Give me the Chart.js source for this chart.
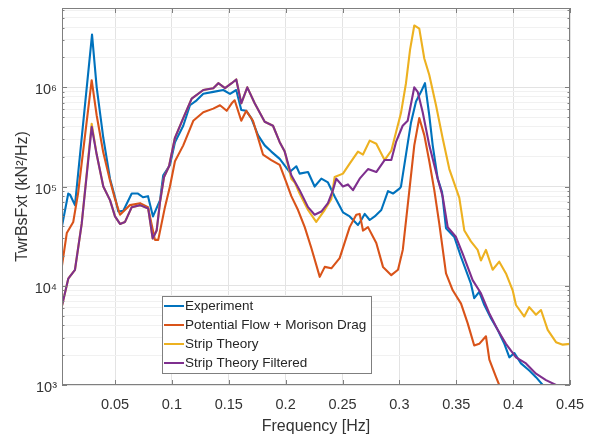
<!DOCTYPE html>
<html><head><meta charset="utf-8">
<script src="https://cdn.jsdelivr.net/npm/chart.js@4.4.1/dist/chart.umd.min.js"></script>
<style>html,body{margin:0;padding:0;background:#fff;}</style>
</head><body>
<canvas id="c" width="591" height="439"></canvas>
<script>
const seriesLabels = ['Experiment', 'Potential Flow + Morison Drag', 'Strip Theory', 'Strip Theory Filtered'];
const seriesColors = ['#0072BD', '#D95319', '#EDB120', '#7E2F8E'];

const expFreq = [0.0034,0.0089,0.0104,0.0148,0.0298,0.0339,0.0397,0.0456,0.0500,0.0529,0.0573,0.0647,0.0702,0.0746,0.0790,0.0834,0.0896,0.0924,0.0983,0.1027,0.1100,0.1159,0.1218,0.1276,0.1364,0.1452,0.1511,0.1566,0.1610,0.1654,0.1698,0.1757,0.1816,0.1874,0.1948,0.2036,0.2094,0.2123,0.2197,0.2255,0.2314,0.2372,0.2432,0.2504,0.2563,0.2636,0.2665,0.2695,0.2739,0.2783,0.2841,0.2900,0.2944,0.3003,0.3014,0.3058,0.3102,0.3146,0.3190,0.3225,0.3263,0.3293,0.3337,0.3375,0.3410,0.3483,0.3542,0.3629,0.3658,0.3702,0.3747,0.3805,0.3864,0.3923,0.3967,0.4011,0.4069,0.4142,0.4201,0.4274,0.4310];
const expPsd = [4.0e4,8.5e4,8.3e4,6.5e4,3.4e6,1.0e6,3.1e5,1.2e5,7.8e4,5.6e4,5.7e4,8.5e4,8.5e4,7.8e4,8.0e4,5.0e4,7.3e4,1.3e5,1.65e5,2.8e5,4.1e5,6.6e5,7.4e5,8.6e5,9.0e5,9.4e5,8.6e5,9.4e5,5.9e5,5.8e5,4.9e5,3.3e5,2.6e5,2.25e5,1.9e5,1.4e5,1.6e5,1.35e5,1.4e5,1.0e5,1.2e5,1.1e5,7.9e4,5.5e4,5.0e4,4.1e4,4.6e4,5.3e4,4.6e4,5.0e4,5.8e4,9.0e4,8.5e4,9.6e4,1.0e5,2.1e5,4.4e5,7.2e5,9.0e5,1.1e6,5.2e5,2.6e5,1.2e5,8.8e4,3.8e4,3.1e4,1.95e4,1.05e4,7.5e3,8.7e3,6.4e3,4.7e3,3.6e3,2.6e3,1.9e3,2.1e3,1.65e3,1.4e3,1.2e3,9.6e2,8.8e2];

const pfFreq = [0.0034,0.0076,0.0133,0.0175,0.0295,0.0339,0.0397,0.0456,0.0500,0.0544,0.0632,0.0720,0.0790,0.0851,0.0880,0.0939,0.0983,0.1027,0.1100,0.1188,0.1276,0.1364,0.1423,0.1482,0.1526,0.1552,0.1610,0.1654,0.1713,0.1801,0.1874,0.1948,0.2006,0.2050,0.2109,0.2168,0.2226,0.2300,0.2344,0.2402,0.2475,0.2563,0.2621,0.2651,0.2680,0.2724,0.2797,0.2856,0.2929,0.2988,0.3030,0.3088,0.3131,0.3175,0.3219,0.3263,0.3307,0.3351,0.3410,0.3469,0.3542,0.3600,0.3658,0.3702,0.3761,0.3791,0.3850,0.3894];
const pfPsd = [1.6e4,3.4e4,4.4e4,8.5e4,1.18e6,5.2e5,2.2e5,1.15e5,7.5e4,5.2e4,6.5e4,6.8e4,6.2e4,2.9e4,2.9e4,6.2e4,1.0e5,1.8e5,2.6e5,4.6e5,5.6e5,6.1e5,6.6e5,5.8e5,6.9e5,7.4e5,4.6e5,5.8e5,4.6e5,2.1e5,1.85e5,1.65e5,1.1e5,8.0e4,5.8e4,3.9e4,2.4e4,1.23e4,1.55e4,1.5e4,1.9e4,3.9e4,5.2e4,5.3e4,3.6e4,3.9e4,2.7e4,1.55e4,1.28e4,1.45e4,2.3e4,9.2e4,2.6e5,4.9e5,3.3e5,1.8e5,9.2e4,4.2e4,1.33e4,9.0e3,6.6e3,4.2e3,2.5e3,2.6e3,3.1e3,1.8e3,1.2e3,9.0e2];

const stFreq = [0.0034,0.0089,0.0148,0.0207,0.0295,0.0339,0.0397,0.0456,0.0500,0.0544,0.0588,0.0647,0.0720,0.0792,0.0831,0.0866,0.0896,0.0931,0.0975,0.1027,0.1100,0.1174,0.1276,0.1364,0.1408,0.1467,0.1526,0.1566,0.1610,0.1663,0.1728,0.1816,0.1889,0.1948,0.1992,0.2050,0.2080,0.2123,0.2197,0.2269,0.2343,0.2402,0.2431,0.2504,0.2563,0.2636,0.2680,0.2739,0.2797,0.2870,0.2929,0.2970,0.3014,0.3058,0.3094,0.3131,0.3175,0.3219,0.3263,0.3322,0.3381,0.3439,0.3498,0.3527,0.3571,0.3629,0.3688,0.3717,0.3761,0.3820,0.3878,0.3937,0.3996,0.4025,0.4098,0.4142,0.4201,0.4245,0.4304,0.4377,0.4436,0.4500];
const stPsd = [6.3e3,1.18e4,1.45e4,4.2e4,4.3e5,2.1e5,1.0e5,7.3e4,5.0e4,4.2e4,4.4e4,6.2e4,6.5e4,6.0e4,3.0e4,3.6e4,7.0e4,1.25e5,1.6e5,3.1e5,4.9e5,7.7e5,9.4e5,9.8e5,1.1e6,9.8e5,1.1e6,1.2e6,6.9e5,1.0e6,6.9e5,4.5e5,4.1e5,2.8e5,2.25e5,1.2e5,1.1e5,8.5e4,5.8e4,4.4e4,5.8e4,7.5e4,1.25e5,1.35e5,1.7e5,2.25e5,2.1e5,2.9e5,2.7e5,1.85e5,2.3e5,3.5e5,5.5e5,1.1e6,2.4e6,4.2e6,3.9e6,1.95e6,1.33e6,6.6e5,3.05e5,1.5e5,9.6e4,7.7e4,3.6e4,2.8e4,2.3e4,1.8e4,2.3e4,1.45e4,1.75e4,1.33e4,9.0e3,6.4e3,4.9e3,6.1e3,5.1e3,5.7e3,3.6e3,2.7e3,2.55e3,2.6e3];

const stfFreq = [0.0034,0.0089,0.0148,0.0207,0.0295,0.0339,0.0397,0.0456,0.0500,0.0544,0.0588,0.0647,0.0720,0.0792,0.0831,0.0866,0.0896,0.0931,0.0975,0.1027,0.1100,0.1174,0.1276,0.1364,0.1408,0.1467,0.1526,0.1566,0.1610,0.1663,0.1728,0.1816,0.1889,0.1948,0.1992,0.2050,0.2123,0.2197,0.2255,0.2314,0.2372,0.2416,0.2445,0.2504,0.2548,0.2592,0.2651,0.2724,0.2797,0.2870,0.2929,0.2970,0.3029,0.3073,0.3131,0.3161,0.3205,0.3263,0.3337,0.3381,0.3425,0.3498,0.3557,0.3644,0.3717,0.3790,0.3864,0.3937,0.4025,0.4113,0.4201,0.4289,0.4377,0.4438];
const stfPsd = [6.3e3,1.18e4,1.45e4,4.2e4,4.0e5,2.1e5,1.0e5,7.3e4,5.0e4,4.2e4,4.4e4,6.2e4,6.5e4,6.0e4,3.0e4,3.6e4,7.0e4,1.25e5,1.6e5,3.1e5,4.9e5,7.7e5,9.4e5,9.8e5,1.1e6,9.8e5,1.1e6,1.2e6,6.9e5,1.0e6,6.9e5,4.5e5,4.1e5,2.8e5,2.25e5,1.3e5,9.2e4,6.2e4,5.2e4,5.6e4,6.8e4,9.2e4,1.2e5,1.0e5,1.05e5,9.2e4,1.2e5,1.5e5,1.4e5,1.85e5,1.85e5,2.8e5,4.1e5,4.6e5,1.0e6,9.0e5,5.6e5,2.6e5,1.2e5,7.9e4,3.9e4,3.1e4,2.1e4,1.14e4,8.4e3,5.3e3,3.6e3,2.6e3,1.9e3,1.65e3,1.3e3,1.12e3,1.0e3,9.5e2];

const xTickValues = [0.05,0.1,0.15,0.2,0.25,0.3,0.35,0.4,0.45];
const xTickLabels = ['0.05','0.1','0.15','0.2','0.25','0.3','0.35','0.4','0.45'];
const yTickValues = [1e3,1e4,1e5,1e6];
const yTickLabels = ['10\u00B3','10\u2074','10\u2075','10\u2076'];
const xMin = 0.0034, xMax = 0.45, yMin = 1e3, yMax = 6.3e6;

const yGridValues = [];
for (let e = 3; e <= 6; e++) for (let m = 1; m <= 9; m++) { const v = m * Math.pow(10, e); if (v <= yMax) yGridValues.push(v); }

const FONT = "'Liberation Sans', Arial, Helvetica, sans-serif";
const TXT = '#333333';

function mk(i, fr, ps, order) {
  return { label: seriesLabels[i], data: fr.map((f, k) => ({ x: f, y: ps[k] })),
    borderColor: seriesColors[i], backgroundColor: seriesColors[i], borderWidth: 2.1,
    pointRadius: 0, tension: 0, fill: false, order: order, borderJoinStyle: 'round' };
}

const framePlugin = {
  id: 'frame',
  afterDatasetsDraw(chart) {
    const { ctx, chartArea: a, scales: { x, y } } = chart;
    ctx.save();
    ctx.strokeStyle = '#7f7f7f';
    ctx.lineWidth = 1;
    ctx.beginPath();
    xTickValues.forEach(v => {
      const p = Math.round(x.getPixelForValue(v)) + 0.5;
      ctx.moveTo(p, a.bottom); ctx.lineTo(p, a.bottom - 5);
      ctx.moveTo(p, a.top); ctx.lineTo(p, a.top + 5);
    });
    yGridValues.forEach(v => {
      const p = Math.round(y.getPixelForValue(v)) + 0.5;
      const len = yTickValues.includes(v) ? 5 : 2.5;
      ctx.moveTo(a.left, p); ctx.lineTo(a.left + len, p);
      ctx.moveTo(a.right, p); ctx.lineTo(a.right - len, p);
    });
    ctx.stroke();
    ctx.strokeRect(Math.round(a.left) + 0.5, Math.round(a.top) + 0.5, Math.round(a.right - a.left) - 1, Math.round(a.bottom - a.top) - 1);
    ctx.restore();
  }
};

const legendPlugin = {
  id: 'insetLegend',
  afterDraw(chart) {
    const { ctx } = chart;
    const bx = 162, by = 296, bw = 209, bh = 77;
    ctx.save();
    ctx.fillStyle = '#ffffff';
    ctx.fillRect(bx, by, bw, bh);
    ctx.strokeStyle = '#7f7f7f';
    ctx.lineWidth = 1;
    ctx.strokeRect(bx + 0.5, by + 0.5, bw, bh);
    ctx.font = '13.5px ' + FONT;
    ctx.textBaseline = 'middle';
    ctx.textAlign = 'left';
    chart.data.datasets.forEach((ds, i) => {
      const ry = by + 10 + i * 19;
      ctx.strokeStyle = ds.borderColor;
      ctx.lineWidth = 2;
      ctx.beginPath(); ctx.moveTo(bx + 2, ry); ctx.lineTo(bx + 22, ry); ctx.stroke();
      ctx.fillStyle = '#262626';
      ctx.fillText(ds.label, bx + 23, ry + 0.5);
    });
    ctx.restore();
  }
};

new Chart(document.getElementById('c'), {
  type: 'line',
  data: { datasets: [
    mk(0, expFreq, expPsd, 3),
    mk(1, pfFreq, pfPsd, 2),
    mk(2, stFreq, stPsd, 1),
    mk(3, stfFreq, stfPsd, 0)
  ] },
  options: {
    responsive: false, animation: false, devicePixelRatio: 1,
    layout: { padding: { left: 0, top: 8, right: 21, bottom: 0 } },
    plugins: { legend: { display: false }, tooltip: { enabled: false } },
    scales: {
      x: {
        type: 'linear', min: xMin, max: xMax,
        afterBuildTicks: s => { s.ticks = xTickValues.map(v => ({ value: v })); },
        afterFit: s => { s.height = 54; s.paddingLeft = 0; s.paddingRight = 0; },
        ticks: { autoSkip: false, maxRotation: 0, padding: 11, color: TXT,
          font: { family: FONT, size: 14.5 },
          callback: (v, i) => xTickLabels[i] },
        grid: { color: '#e3e3e3', lineWidth: 1, drawTicks: false },
        border: { display: false },
        title: { display: true, text: 'Frequency [Hz]', color: TXT,
          font: { family: FONT, size: 16 }, padding: { top: 0, bottom: 3 } }
      },
      y: {
        type: 'logarithmic', min: yMin, max: yMax,
        afterBuildTicks: s => { s.ticks = yGridValues.map(v => ({ value: v })); },
        afterFit: s => { s.width = 62; s.paddingTop = 0; s.paddingBottom = 0; },
        ticks: { autoSkip: false, padding: 5, color: TXT, labelOffset: 3,
          font: { family: FONT, size: 14.5 },
          callback: (v) => { const k = yTickValues.indexOf(v); return k >= 0 ? yTickLabels[k] : ''; } },
        grid: { color: c => (c.tick && yTickValues.includes(c.tick.value)) ? '#e3e3e3' : '#f1f1f1',
          lineWidth: 1, drawTicks: false },
        border: { display: false },
        title: { display: true, text: 'TwrBsFxt (kN\u00B2/Hz)', color: TXT,
          font: { family: FONT, size: 16 }, padding: { top: 13, bottom: 0 } }
      }
    }
  },
  plugins: [framePlugin, legendPlugin]
});
</script>
</body></html>
